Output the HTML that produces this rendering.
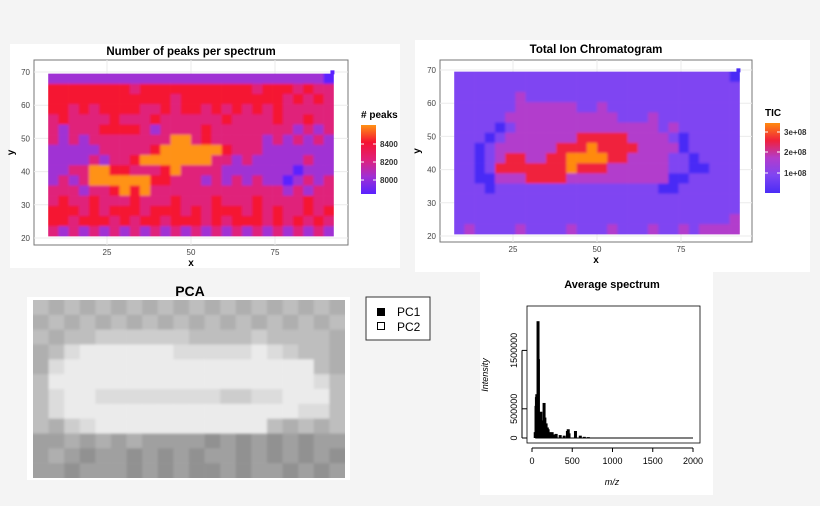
<!DOCTYPE html>
<html><head><meta charset="utf-8"><style>
body{margin:0;background:#f4f4f4;width:820px;height:506px;overflow:hidden;font-family:"Liberation Sans",sans-serif}
svg{position:absolute;left:0;top:0}
</style></head><body>
<svg id="s" width="820" height="506" font-family="Liberation Sans, sans-serif">
<defs><filter id="bl" x="-5%" y="-5%" width="110%" height="110%"><feGaussianBlur stdDeviation="1.3"/></filter></defs>
<rect x="10" y="44" width="390" height="224" fill="#fff"/>
<rect x="415" y="40" width="395" height="232" fill="#fff"/>
<rect x="480" y="272" width="233" height="223" fill="#fff"/>
<rect x="27" y="297" width="323" height="183" fill="#fff"/>
<text x="191" y="55" text-anchor="middle" font-weight="bold" font-size="11.5">Number of peaks per spectrum</text>
<text x="596" y="53" text-anchor="middle" font-weight="bold" font-size="11.5">Total Ion Chromatogram</text>
<text x="190" y="296" text-anchor="middle" font-weight="bold" font-size="14">PCA</text>
<text x="612" y="288" text-anchor="middle" font-weight="bold" font-size="11">Average spectrum</text>
<g id="g1"></g><g id="g2"></g><g id="g3"></g><g id="g4"></g>
<g>
<rect x="366" y="297" width="64" height="43" fill="#fff" stroke="#333" stroke-width="1"/>
<rect x="377" y="308" width="8" height="8" fill="#000"/>
<text x="397" y="316" font-size="12">PC1</text>
<rect x="377.5" y="322.5" width="7" height="7" fill="#fff" stroke="#000"/>
<text x="397" y="331" font-size="12">PC2</text>
</g>
</svg>
<script>
const NS="http://www.w3.org/2000/svg";
function el(p,t,a){const e=document.createElementNS(NS,t);for(const k in a)e.setAttribute(k,a[k]);p.appendChild(e);return e;}
const peaksRows=["1111111111111111111111111110","3333333323333333333323332322","3333333333332333333333323232","3323233332232332323232322222","2322223222322222232222322322","2122233332122223222222221212","2121222222224423222221212121","1111122222344444432221111111","1111212234444444221211111211","1122443322234222211111110111","1212444444332221212121101212","2221223434222222222222212122","2322322232223222322232222322","3332323332333232333232322323","3323332323323332323332323232","2121212121212121212121212121"];
const ticRows=["1111111111111111111111111110","1111111111111111111111111111","1111112111111111111111111111","1111112222221121111111111111","1111122222222222111211111111","1111012222222222222212111111","1110122222223333322221011111","1101222222333433332222011111","1101233223344443322221101111","1101333333343332222221100111","1100222333322222222220011111","1110111111111111111100111111","1111111111111111111111111111","1111111111111111111111111111","1111111111111111111111111112","1211112111121112111211212222"];
const pcaRows=["65656565656565656565","56565656565656565656","65667777776666766665","56899999988888987665","58999999999999999965","69999999999999999986","68998888888877889996","68999999999999999886","65789999999999965656","44545454444343434344","45434434343443434343","44344434343343443434"];
const xTicks=[25,50,75], yTicks=[20,30,40,50,60,70];
const peaksLegend=["8400","8200","8000"], ticLegend=["3e+08","2e+08","1e+08"];
const specMz=[40,50,55,60,65,70,75,80,85,90,100,110,115,125,140,150,160,175,190,200,220,250,280,300,350,400,440,450,460,540,600,650,700];
const specInt=[100000,550000,700000,750000,500000,300000,2000000,1350000,400000,300000,250000,450000,200000,300000,200000,600000,350000,250000,180000,150000,100000,100000,60000,70000,50000,40000,120000,150000,80000,120000,40000,20000,15000];
const specYTicks=[0,500000,1500000], specYLabels=["0","500000","1500000"], specXTicks=[0,500,1000,1500,2000];
const pCol=["#5a22ff","#a030d4","#e0207a","#f51232","#ff9214"], tCol=["#4a2cf6","#7f45f2","#b23ccc","#f0203c","#ff8a10"];
function heat(g,rows,cols,o,legend,title,lb){
 const sx=v=>o.x0+(v-0)*o.kx, sy=v=>o.y0-(v-20)*o.ky;
 el(g,'rect',{x:o.px,y:o.py,width:o.pw,height:o.ph,fill:'#fff',stroke:'#777','stroke-width':1});
 xTicks.forEach(t=>{const l=el(g,'line',{x1:sx(t),x2:sx(t),y1:o.py,y2:o.py+o.ph,stroke:'#ebebeb'});
  const tx=el(g,'text',{x:sx(t),y:o.py+o.ph+10,'text-anchor':'middle','font-size':8,fill:'#444'});tx.textContent=t;});
 yTicks.forEach(t=>{const l=el(g,'line',{x1:o.px,x2:o.px+o.pw,y1:sy(t),y2:sy(t),stroke:'#ebebeb'});
  const tx=el(g,'text',{x:o.px-4,y:sy(t)+3,'text-anchor':'end','font-size':8,fill:'#444'});tx.textContent=t;});
 const nr=rows.length,nc=rows[0].length,cw=85/nc,ch=49/nr;
 const cl=el(g,'clipPath',{id:'c'+o.lx});el(cl,'rect',{x:sx(7.5),y:sy(69.5),width:85*o.kx,height:49*o.ky});
 const hg=el(g,'g',{'clip-path':`url(#c${o.lx})`});const hb=el(hg,'g',{filter:'url(#bl)'});
 rows.forEach((r,i)=>{for(let j=0;j<nc;j++){const c=el(hb,'rect',{x:sx(7.5+j*cw)-(j==0?3:0),y:sy(69.5-i*ch)-(i==0?3:0),width:cw*o.kx+.3+(j==0||j==nc-1?3:0),height:ch*o.ky+.3+(i==0||i==nr-1?3:0),fill:cols[+r[j]]});}});
 el(g,'rect',{x:sx(91.5),y:sy(70.5),width:4,height:4,fill:cols[0]});
 const xl=el(g,'text',{x:(o.px+o.pw/2),y:o.py+o.ph+21,'text-anchor':'middle','font-size':10,'font-weight':'bold'});xl.textContent='x';
 const yl=el(g,'text',{x:o.px-20,y:o.py+o.ph/2,'text-anchor':'middle','font-size':10,'font-weight':'bold',transform:`rotate(-90 ${o.px-20} ${o.py+o.ph/2})`});yl.textContent='y';
 const id='gr'+o.lx;const d=el(g,'defs',{});const lg=el(d,'linearGradient',{id:id,x1:0,y1:1,x2:0,y2:0});
 cols.forEach((c,i)=>el(lg,'stop',{offset:i/4,'stop-color':c}));
 const cb=el(g,'rect',{x:o.lx,y:o.ly,width:15,height:o.lh,fill:`url(#${id})`});
 const tt=el(g,'text',{x:o.lx,y:o.ly-7,'font-size':10,'font-weight':'bold'});tt.textContent=title;
 legend.forEach((s,i)=>{const t=el(g,'text',{x:o.lx+19,y:lb[i]+3,'font-size':8,'font-weight':'bold',fill:'#333'});t.textContent=s;
  el(g,'line',{x1:o.lx,x2:o.lx+3,y1:lb[i],y2:lb[i],stroke:'#fff'});el(g,'line',{x1:o.lx+12,x2:o.lx+15,y1:lb[i],y2:lb[i],stroke:'#fff'});});
}
heat(document.getElementById('g1'),peaksRows,pCol,{x0:23,kx:3.36,y0:238,ky:3.32,px:34,py:60,pw:314,ph:185,lx:361,ly:125,lh:69},peaksLegend,'# peaks',[144,162,180]);
heat(document.getElementById('g2'),ticRows,tCol,{x0:429,kx:3.36,y0:236,ky:3.32,px:440,py:60,pw:312,ph:182,lx:765,ly:123,lh:70},ticLegend,'TIC',[132,152,173]);
// PCA
const g3=document.getElementById('g3');const pc=pcaRows[0].length,pr=pcaRows.length,pw=312/pc,ph=178/pr;
const pcl=el(g3,'clipPath',{id:'cp'});el(pcl,'rect',{x:33,y:300,width:312,height:178});
const pg=el(el(g3,'g',{'clip-path':'url(#cp)'}),'g',{filter:'url(#bl)'});
pcaRows.forEach((r,i)=>{for(let j=0;j<pc;j++){const v=100+(+r[j])*15;const c=el(pg,'rect',{x:33+j*pw-(j==0?3:0),y:300+i*ph-(i==0?3:0),width:pw+.3+(j==0||j==pc-1?3:0),height:ph+.3+(i==0||i==pr-1?3:0),fill:`rgb(${v},${v},${v})`});}});
// spectrum
const g4=document.getElementById('g4');const SX=v=>532+v*0.0805,SY=v=>438-v*0.0000584;
el(g4,'rect',{x:527,y:306,width:173,height:137,fill:'none',stroke:'#000','stroke-width':0.8,});
el(g4,'line',{x1:SX(40),x2:SX(2000),y1:SY(0),y2:SY(0),stroke:'#000','stroke-width':1});
specMz.forEach((m,i)=>{const b=el(g4,'rect',{x:SX(m)-1.5,y:SY(specInt[i]),width:3,height:SY(0)-SY(specInt[i]),fill:'#000'});});
specYTicks.forEach((t,i)=>{el(g4,'line',{x1:522,x2:527,y1:SY(t),y2:SY(t),stroke:'#000'});const tx=el(g4,'text',{x:517,y:SY(t),'text-anchor':'middle','font-size':9,transform:`rotate(-90 517 ${SY(t)})`});tx.textContent=specYLabels[i];});
el(g4,'line',{x1:SX(0),x2:SX(2000),y1:448,y2:448,stroke:'#000'});
specXTicks.forEach(t=>{el(g4,'line',{x1:SX(t),x2:SX(t),y1:448,y2:452,stroke:'#000'});const tx=el(g4,'text',{x:SX(t),y:464,'text-anchor':'middle','font-size':9});tx.textContent=t;});
el(g4,'line',{x1:522,x2:522,y1:SY(0),y2:SY(1500000),stroke:'#000'});
const mx=el(g4,'text',{x:612,y:485,'text-anchor':'middle','font-size':9,'font-style':'italic'});mx.textContent='m/z';
const iy=el(g4,'text',{x:488,y:375,'text-anchor':'middle','font-size':9,'font-style':'italic',transform:'rotate(-90 488 375)'});iy.textContent='Intensity';
</script>
</body></html>
